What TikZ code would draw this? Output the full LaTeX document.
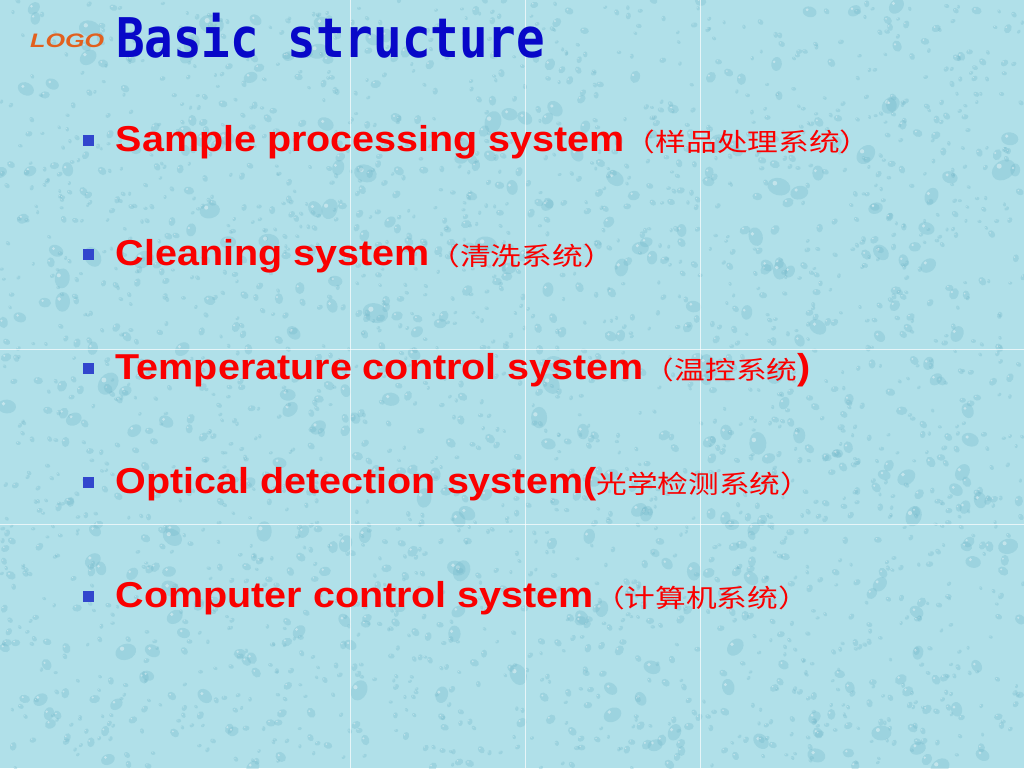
\documentclass[tikz,border=0pt]{standalone}
\usepackage{fontspec}
\usepackage{graphicx}
\setmainfont{Liberation Sans}
\newfontfamily\cjk{Noto Sans CJK SC}
\newfontfamily\titlefont{DejaVu Sans Mono}
\definecolor{bgc}{RGB}{176,224,233}
\definecolor{dropc}{RGB}{112,182,200}
\definecolor{titleblue}{RGB}{8,8,200}
\definecolor{bulletblue}{RGB}{50,70,205}
\definecolor{logoorange}{RGB}{226,96,30}
\definecolor{itemred}{RGB}{250,0,0}
\tikzset{
  drop/.style={fill=dropc, fill opacity=0.3},
  hl/.style={fill=white, fill opacity=0.4},
  gridline/.style={white, opacity=0.7, line width=0.9pt},
  item/.style={anchor=base west, inner sep=0pt, text=itemred,
    font=\fontsize{36}{43}\selectfont\bfseries},
  sq/.style={fill=bulletblue, minimum size=11pt, inner sep=0pt},
  logo/.style={anchor=base west, inner sep=0pt, text=logoorange,
    font=\fontsize{19.5}{23}\selectfont\bfseries\itshape},
  title/.style={anchor=base west, inner sep=0pt, text=titleblue,
    font=\fontsize{47.5}{56}\titlefont\bfseries}
}
\newcommand{\zh}[1]{{\cjk\mdseries\fontsize{28}{32}\selectfont\scalebox{1}[0.9]{#1}}}
\begin{document}
\begin{tikzpicture}[x=1pt,y=-1pt]
\useasboundingbox (0,0) rectangle (1024,768);
\fill[bgc] (0,0) rectangle (1024,768);
\begin{scope}
\clip (0,0) rectangle (1024,768);
\pgfmathsetseed{12}
\foreach \i in {1,...,2800}{
  \pgfmathsetmacro\dx{rnd*1024}
  \pgfmathsetmacro\dy{rnd*768}
  \pgfmathsetmacro\dr{2+12*rnd*rnd*rnd}
  \pgfmathsetmacro\da{rnd*180}
  \fill[drop, rotate around={\da:(\dx,\dy)}] (\dx,\dy) ellipse [x radius=\dr, y radius=0.75*\dr];
  \fill[hl] (\dx-0.35*\dr,\dy-0.3*\dr) circle [radius=0.2*\dr];
}
\end{scope}
\foreach \gx in {350,525,700}{\draw[gridline] (\gx,0) -- (\gx,768);}
\foreach \gy in {349,524}{\draw[gridline] (0,\gy) -- (1024,\gy);}

\node[logo] (logo) at (30,47.5) {\scalebox{1.29}[1]{LOGO}};
\node[title] (title) at (116,57) {\scalebox{1}[1.15]{Basic structure}};

\node[sq] (b1) at (88,140) {};
\node[sq] (b2) at (88,254) {};
\node[sq] (b3) at (88,368) {};
\node[sq] (b4) at (88,482) {};
\node[sq] (b5) at (88,596) {};

\node[item] (t1) at (115.5,151) {\scalebox{1.097}[1]{Sample processing system\zh{（样品处理系统）}}};
\node[item] (t2) at (115.5,265) {\scalebox{1.097}[1]{Cleaning system\zh{（清洗系统）}}};
\node[item] (t3) at (115.5,379) {\scalebox{1.097}[1]{Temperature control system\zh{（温控系统})}};
\node[item] (t4) at (115.5,493) {\scalebox{1.097}[1]{Optical detection system(\zh{光学检测系统）}}};
\node[item] (t5) at (115.5,607) {\scalebox{1.097}[1]{Computer control system\zh{（计算机系统）}}};
\end{tikzpicture}
\end{document}
